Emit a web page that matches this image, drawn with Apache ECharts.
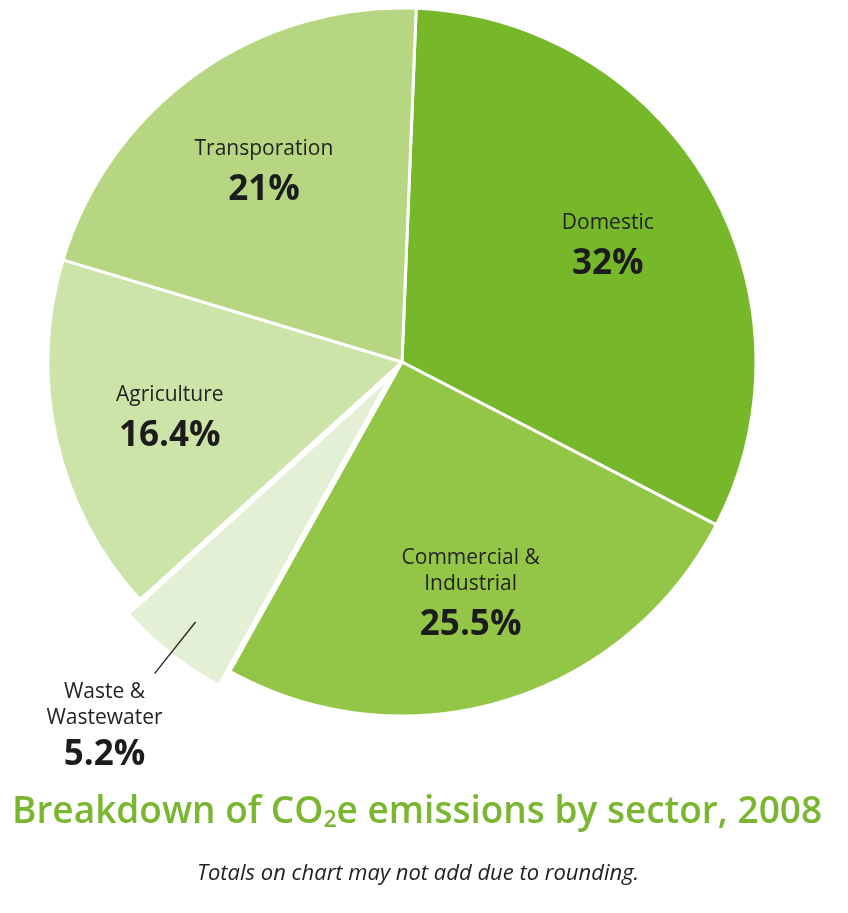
<!DOCTYPE html>
<html>
<head>
<meta charset="utf-8">
<script src="https://cdn.jsdelivr.net/npm/echarts@6/dist/echarts.min.js"></script>
<style>
html,body{margin:0;padding:0;background:#fff;}
#c{width:848px;height:913px;}
</style>
</head>
<body>
<div id="c"></div>
<script>
const categories = ['Domestic', 'Commercial & Industrial', 'Waste & Wastewater', 'Agriculture', 'Transporation'];
const values = [32, 25.5, 5.2, 16.4, 21];
const nameLabels = ['Domestic', 'Commercial &\nIndustrial', 'Waste &\nWastewater', 'Agriculture', 'Transporation'];
const percentLabels = ['32%', '25.5%', '5.2%', '16.4%', '21%'];
const colors = ['#76b82a', '#93c546', '#e3f0d5', '#cde4a9', '#b6d681'];
const explodedIndex = 2;

const chart = echarts.init(document.getElementById('c'));
const FONT = '"Open Sans", "Noto Sans", sans-serif';
const center = [402, 362];
const labelCenter = [402, 371];

const mainData = categories.map((c, i) => ({
  name: c, value: values[i], selected: i === explodedIndex,
  itemStyle: { color: colors[i] }
}));

const insideData = categories.map((c, i) => ({
  name: c, value: values[i],
  label: { show: i !== explodedIndex }
}));

const outsideData = categories.map((c, i) => ({
  name: c, value: values[i], selected: i === explodedIndex,
  label: { show: i === explodedIndex },
  labelLine: { show: i === explodedIndex }
}));

const fmt = p => '{n|' + nameLabels[p.dataIndex].split('\n').join('}\n{n|') + '}\n{p|' + percentLabels[p.dataIndex] + '}';

chart.setOption({
  backgroundColor: '#ffffff',
  animation: false,
  title: [{
    text: 'Breakdown of CO{s|2}e emissions by sector, 2008',
    left: 7, top: 788,
    textStyle: {
      color: '#7ab630', fontFamily: FONT, fontSize: 37, fontWeight: 600,
      rich: {
        s: { color: '#7ab630', fontFamily: FONT, fontSize: 23, fontWeight: 600, padding: [16, 0, 0, 0] }
      }
    }
  }, {
    text: 'Totals on chart may not add due to rounding.',
    left: 192, top: 858,
    textStyle: { color: '#222', fontFamily: FONT, fontSize: 22, fontStyle: 'italic', fontWeight: 'normal' }
  }],
  series: [{
    type: 'pie',
    z: 2,
    center: center,
    radius: [0, 354],
    startAngle: 87.7,
    clockwise: true,
    selectedMode: 'single',
    selectedOffset: 18,
    silent: true,
    itemStyle: { borderColor: '#ffffff', borderWidth: 3 },
    label: { show: false },
    labelLine: { show: false },
    emphasis: { disabled: true },
    data: mainData
  }, {
    type: 'pie',
    z: 3,
    center: labelCenter,
    radius: [116, 354],
    startAngle: 87.7,
    clockwise: true,
    silent: true,
    itemStyle: { color: 'transparent', borderWidth: 0 },
    emphasis: { disabled: true },
    labelLine: { show: false },
    label: {
      position: 'inside',
      formatter: fmt,
      rich: {
        n: { fontFamily: FONT, fontSize: 21, color: '#232323', lineHeight: 26, align: 'center' },
        p: { fontFamily: FONT, fontSize: 35, fontWeight: 'bold', color: '#1c1c1c', lineHeight: 56, align: 'center' }
      }
    },
    data: insideData
  }, {
    type: 'pie',
    z: 4,
    center: center,
    radius: [0, 314],
    startAngle: 87.7,
    clockwise: true,
    selectedMode: 'single',
    selectedOffset: 18,
    silent: true,
    itemStyle: { color: 'transparent', borderWidth: 0 },
    emphasis: { disabled: true },
    labelLine: { show: true, length: 66, length2: 0, lineStyle: { color: '#222', width: 1.3 } },
    label: {
      position: 'outside',
      distanceToLabelLine: -8,
      padding: [110, 0, 0, 0],
      formatter: fmt,
      rich: {
        n: { fontFamily: FONT, fontSize: 21, color: '#232323', lineHeight: 26, align: 'center' },
        p: { fontFamily: FONT, fontSize: 35, fontWeight: 'bold', color: '#1c1c1c', lineHeight: 48, align: 'center' }
      }
    },
    data: outsideData
  }]
});
</script>
</body>
</html>
